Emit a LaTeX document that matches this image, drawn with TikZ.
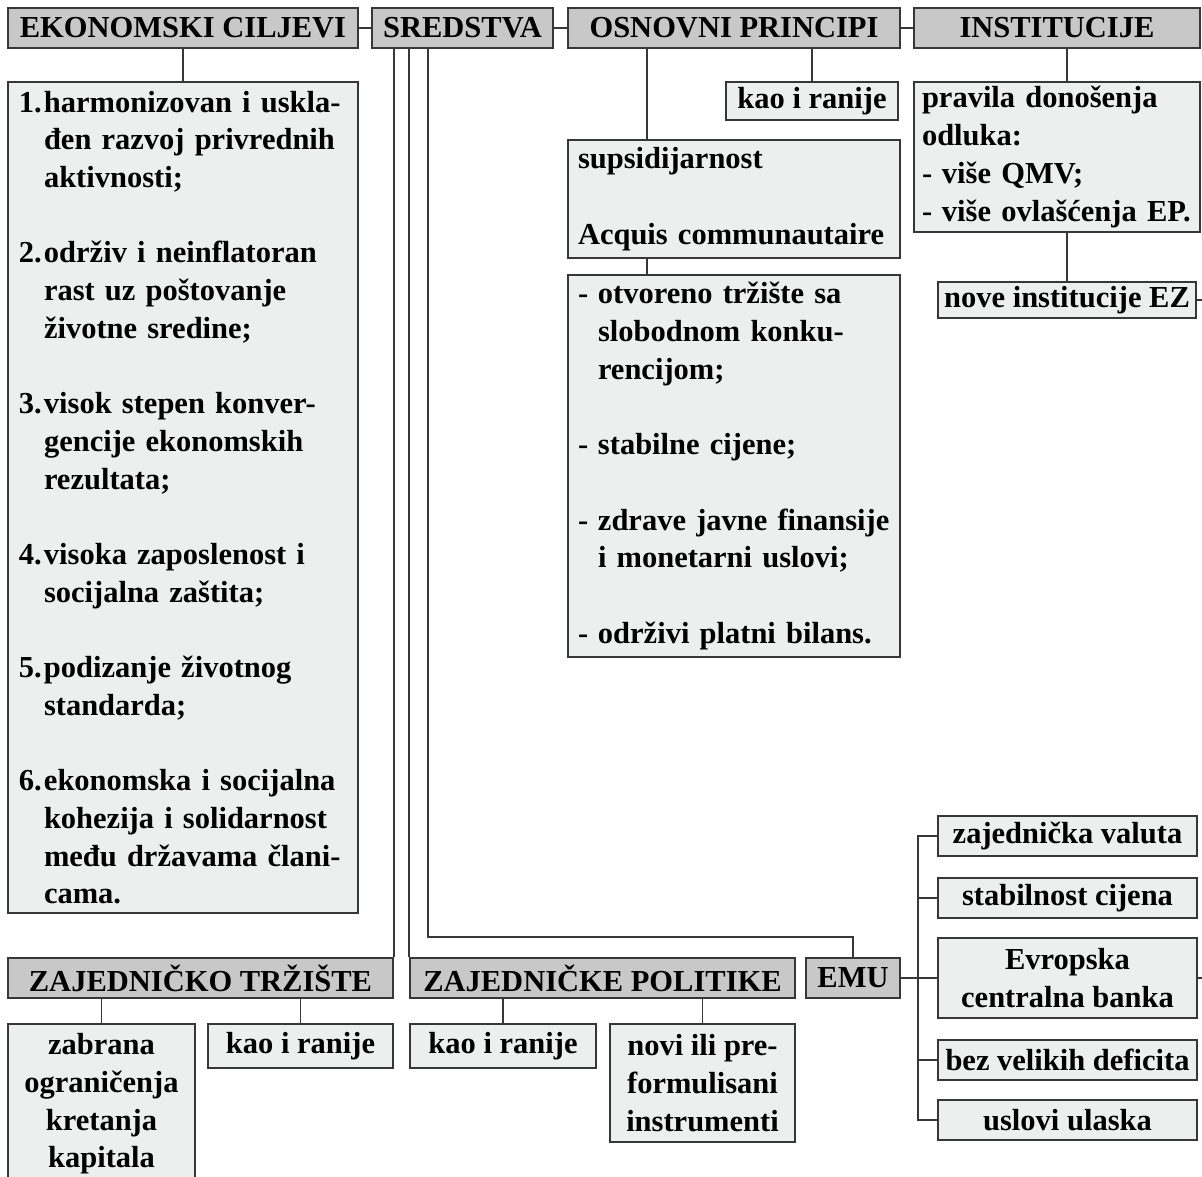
\documentclass[tikz,border=0pt]{standalone}
\usepackage{fontspec}
\setmainfont{Liberation Serif}
\usepackage{tikz}
\definecolor{hdrgray}{RGB}{200,200,200}
\definecolor{boxgray}{RGB}{237,238,238}
\definecolor{linegray}{RGB}{55,55,55}
\newcommand{\bodyfont}{\fontsize{30.5}{37.7}\selectfont\bfseries}
\newcommand{\itm}[1]{\makebox[25pt][l]{#1}}
\newcommand{\gind}{\hspace*{25pt}}
\newcommand{\dsh}{\makebox[20pt][l]{-}}
\newcommand{\dind}{\hspace*{20pt}}

\begin{document}
\begin{tikzpicture}
	[x=1pt, y=-1pt,
	head/.style={rectangle, draw=linegray, fill=hdrgray, line width=1.6pt, inner sep=0pt, minimum height=40pt, font=\bodyfont},
	box/.style={rectangle, draw=linegray, fill=boxgray, line width=1.6pt, inner sep=0pt, font=\bodyfont},
	txtbox/.style={box, inner xsep=10pt, align=left},
	midbox/.style={box, align=center},
	link/.style={draw=linegray, line width=1.6pt}]
	\clip (0,0) rectangle (1202,1177);
	\node[head, minimum width=350pt] (ciljevi) at (183,28) {EKONOMSKI CILJEVI};
	\node[head, minimum width=181pt] (sred) at (462.5,28) {SREDSTVA};
	\node[head, minimum width=332pt] (princ) at (734,28) {OSNOVNI PRINCIPI};
	\node[head, minimum width=286pt] (inst) at (1057,28) {INSTITUCIJE};
	\node[txtbox, inner xsep=11pt, text width=328pt, minimum height=831pt] (lista) at (183,497.5) {%
		\itm{1.}harmonizovan i uskla-\\
		\gind đen razvoj privrednih\\
		\gind aktivnosti;\\[37.7pt]
		\itm{2.}održiv i neinflatoran\\
		\gind rast uz poštovanje\\
		\gind životne sredine;\\[37.7pt]
		\itm{3.}visok stepen konver-\\
		\gind gencije ekonomskih\\
		\gind rezultata;\\[37.7pt]
		\itm{4.}visoka zaposlenost i\\
		\gind socijalna zaštita;\\[37.7pt]
		\itm{5.}podizanje životnog\\
		\gind standarda;\\[37.7pt]
		\itm{6.}ekonomska i socijalna\\
		\gind kohezija i solidarnost\\
		\gind među državama člani-\\
		\gind cama.};
	\node[midbox, minimum width=172pt, minimum height=38pt] (kaoprinc) at (812,101) {kao i ranije};
	\node[txtbox, text width=312pt, minimum height=118pt] (supsid) at (734,199) {supsidijarnost\\[37.7pt]Acquis communautaire};
	\node[txtbox, text width=312pt, minimum height=382pt] (uslovi) at (734,466) {%
		\dsh otvoreno tržište sa\\
		\dind slobodnom konku-\\
		\dind rencijom;\\[37.7pt]
		\dsh stabilne cijene;\\[37.7pt]
		\dsh zdrave javne finansije\\
		\dind i monetarni uslovi;\\[37.7pt]
		\dsh održivi platni bilans.};
	\node[txtbox, inner xsep=8pt, text width=270pt, minimum height=150pt] (pravila) at (1057,157) {%
		pravila donošenja\\
		odluka:\\
		\dsh više QMV;\\
		\dsh više ovlašćenja EP.};
	\node[midbox, minimum width=258pt, minimum height=36pt] (nove) at (1067,300) {nove institucije EZ};
	\node[head, minimum width=385pt] (trziste) at (200.5,978) {ZAJEDNIČKO TRŽIŠTE};
	\node[head, minimum width=385pt] (politike) at (602.5,978) {ZAJEDNIČKE POLITIKE};
	\node[head, minimum width=94pt] (emu) at (853,978) {EMU};
	\node[midbox, minimum width=187pt, minimum height=160pt] (zabrana) at (101.5,1104) {zabrana\\ograničenja\\kretanja\\kapitala};
	\node[midbox, minimum width=185pt, minimum height=44pt] (kaotrz) at (300.5,1046) {kao i ranije};
	\node[midbox, minimum width=186pt, minimum height=44pt] (kaopol) at (503,1046) {kao i ranije};
	\node[midbox, minimum width=185pt, minimum height=118pt] (novi) at (702.5,1083) {novi ili pre-\\formulisani\\instrumenti};
	\node[midbox, minimum width=259pt, minimum height=40pt] (valuta) at (1067.5,836) {zajednička valuta};
	\node[midbox, minimum width=259pt, minimum height=40pt] (cijene) at (1067.5,898) {stabilnost cijena};
	\node[midbox, minimum width=259pt, minimum height=80pt] (ecb) at (1067.5,978) {Evropska\\centralna banka};
	\node[midbox, minimum width=259pt, minimum height=40pt] (deficit) at (1067.5,1060) {bez velikih deficita};
	\node[midbox, minimum width=259pt, minimum height=40pt] (ulazak) at (1067.5,1120) {uslovi ulaska};
	\coordinate (emubend) at (428,937);
	\coordinate (bus) at (918,978);
	\coordinate (izlaz1) at (1215,300);
	\coordinate (izlaz2) at (1215,978);
	\path[link] (ciljevi) edge (sred);
	\path[link] (sred) edge (princ);
	\path[link] (princ) edge (inst);
	\path[link] (ciljevi.south) edge (lista.north);
	\path[link] (kaoprinc.north |- princ.south) edge (kaoprinc.north);
	\path[link] ([xshift=80pt]supsid.north west |- princ.south) edge ([xshift=80pt]supsid.north west);
	\path[link] ([xshift=80pt]supsid.south west) edge ([xshift=80pt]uslovi.north west);
	\path[link] ([xshift=154pt]inst.south west) edge ([xshift=154pt]pravila.north west);
	\path[link] (nove.north |- pravila.south) edge (nove.north);
	\path[link] (nove.east) edge (izlaz1);
	\draw[link] (sred.south -| trziste.north east) -- (trziste.north east);
	\draw[link] (sred.south -| politike.north west) -- (politike.north west);
	\draw[link] (sred.south -| emubend) -- (emubend) -| (emu.north);
	\path[link] (zabrana.north |- trziste.south) edge (zabrana.north);
	\path[link] (kaotrz.north |- trziste.south) edge (kaotrz.north);
	\path[link] (kaopol.north |- politike.south) edge (kaopol.north);
	\path[link] (novi.north |- politike.south) edge (novi.north);
	\path[link] (emu.east) edge (ecb.west);
	\draw[link] (valuta.west) -| (bus) |- (ulazak.west);
	\path[link] (cijene.west) edge (cijene.west -| bus);
	\path[link] (deficit.west) edge (deficit.west -| bus);
	\path[link] (ecb.east) edge (izlaz2);
\end{tikzpicture}
\end{document}
